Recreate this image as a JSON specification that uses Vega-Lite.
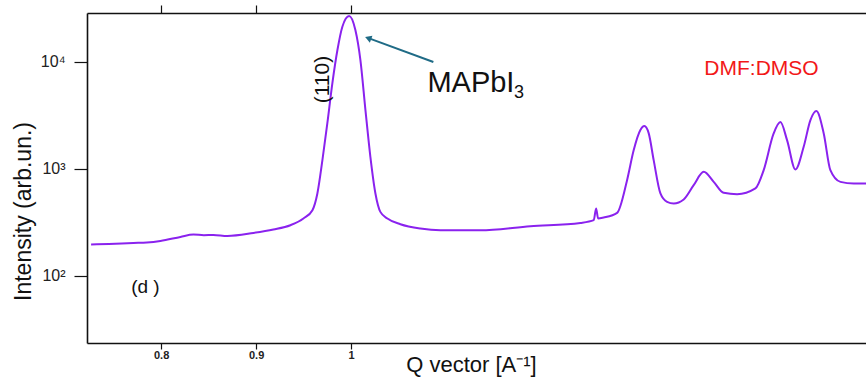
{
  "$schema": "https://vega.github.io/schema/vega-lite/v6.json",
  "autosize": {"type": "none"},
  "padding": {"left": 87, "top": 13, "right": 0, "bottom": 36},
  "background": "white",
  "config": {
    "view": {"stroke": null},
    "font": "Liberation Sans"
  },
  "datasets": {
    "curve": [
      {"q": 0.7263, "i": 196.6},
      {"q": 0.745, "i": 199.0},
      {"q": 0.7708, "i": 203.4},
      {"q": 0.785, "i": 205.5},
      {"q": 0.7993, "i": 212.3},
      {"q": 0.8203, "i": 231.5},
      {"q": 0.834, "i": 243.8},
      {"q": 0.845, "i": 240.5},
      {"q": 0.855, "i": 241.7},
      {"q": 0.8698, "i": 236.5},
      {"q": 0.8972, "i": 252.3},
      {"q": 0.9182, "i": 271.4},
      {"q": 0.9361, "i": 297.7},
      {"q": 0.9498, "i": 343.9},
      {"q": 0.9593, "i": 411.1},
      {"q": 0.9645, "i": 588.8},
      {"q": 0.9698, "i": 1206},
      {"q": 0.975, "i": 2674},
      {"q": 0.9803, "i": 6324},
      {"q": 0.9856, "i": 12860},
      {"q": 0.9908, "i": 21240},
      {"q": 0.9979, "i": 26740},
      {"q": 1.0045, "i": 19790},
      {"q": 1.0098, "i": 10370},
      {"q": 1.0151, "i": 3536},
      {"q": 1.0203, "i": 1295},
      {"q": 1.0256, "i": 588.8},
      {"q": 1.0308, "i": 396.5},
      {"q": 1.0382, "i": 343.9},
      {"q": 1.0519, "i": 304.2},
      {"q": 1.0729, "i": 277.3},
      {"q": 1.094, "i": 267.4},
      {"q": 1.1361, "i": 267.4},
      {"q": 1.1887, "i": 291.4},
      {"q": 1.2414, "i": 312.8},
      {"q": 1.2554, "i": 331.6},
      {"q": 1.2579, "i": 426.6},
      {"q": 1.26, "i": 343.9},
      {"q": 1.2659, "i": 351.4},
      {"q": 1.28, "i": 388.1},
      {"q": 1.2905, "i": 784.4},
      {"q": 1.2975, "i": 1496},
      {"q": 1.3045, "i": 2300},
      {"q": 1.3087, "i": 2506},
      {"q": 1.3133, "i": 2142},
      {"q": 1.3185, "i": 1206},
      {"q": 1.3256, "i": 588.8},
      {"q": 1.3326, "i": 491.6},
      {"q": 1.3396, "i": 474.9},
      {"q": 1.3501, "i": 517.6},
      {"q": 1.3606, "i": 704.3},
      {"q": 1.3712, "i": 937.6},
      {"q": 1.3817, "i": 755.8},
      {"q": 1.3922, "i": 596.9},
      {"q": 1.4063, "i": 580.3},
      {"q": 1.4256, "i": 655.9},
      {"q": 1.4343, "i": 972.5},
      {"q": 1.4448, "i": 2142},
      {"q": 1.4519, "i": 2732},
      {"q": 1.4589, "i": 1854},
      {"q": 1.4677, "i": 987.2},
      {"q": 1.4764, "i": 1606},
      {"q": 1.4835, "i": 2852},
      {"q": 1.4898, "i": 3462},
      {"q": 1.4975, "i": 2142},
      {"q": 1.5045, "i": 972.5},
      {"q": 1.5151, "i": 755.8},
      {"q": 1.5291, "i": 730.3},
      {"q": 1.5424, "i": 730.3}
    ]
  },
  "width": 779,
  "height": 330,
  "resolve": {"axis": {"x": "independent"}},
  "layer": [
    {
      "layer": [
        {
          "data": {"name": "curve"},
          "mark": {"type": "line", "color": "#8a22ee", "strokeWidth": 2, "interpolate": "monotone", "clip": true},
          "encoding": {
            "x": {
              "field": "q", "type": "quantitative",
              "scale": {"domain": [0.722, 1.542], "nice": false, "zero": false},
              "axis": {
                "orient": "bottom",
                "values": [0.8, 0.9, 1],
                "labelExpr": "datum.value == 1 ? '1' : format(datum.value, '.1f')",
                "labelFont": "Liberation Sans", "labelFontSize": 11, "labelFontWeight": "bold", "labelColor": "#222",
                "labelPadding": 0, "labelBaseline": "top",
                "tickSize": 6, "tickColor": "#111", "tickWidth": 1.2,
                "domainColor": "#111", "domainWidth": 1.6,
                "grid": false,
                "title": "Q vector [A⁻¹]",
                "titleFont": "Liberation Sans", "titleFontSize": 22, "titleFontWeight": "normal", "titleColor": "#111",
                "titleX": 384, "titleY": 28, "titleAlign": "center", "titleBaseline": "alphabetic"
              }
            },
            "y": {
              "field": "i", "type": "quantitative",
              "scale": {"type": "log", "domain": [23.66, 28510], "nice": false},
              "axis": {
                "orient": "left",
                "values": [100, 1000, 10000],
                "labelExpr": "datum.value == 100 ? '10²' : datum.value == 1000 ? '10³' : '10⁴'",
                "labelFont": "Liberation Sans", "labelFontSize": 16, "labelColor": "#222",
                "labelPadding": 9,
                "tickSize": 13, "tickColor": "#111", "tickWidth": 1.2,
                "domainColor": "#111", "domainWidth": 1.6,
                "grid": false,
                "title": "Intensity (arb.un.)",
                "titleFont": "Liberation Sans", "titleFontSize": 23, "titleFontWeight": "normal", "titleColor": "#111",
                "titleAngle": 270, "titleX": -64, "titleY": 198, "titleAlign": "center", "titleBaseline": "middle"
              }
            }
          }
        },
        {
          "data": {"values": [{"q": 1.0866, "i": 9940, "q2": 1.019, "i2": 16510}]},
          "mark": {"type": "rule", "color": "#1f6b86", "strokeWidth": 2},
          "encoding": {
            "x": {"field": "q", "type": "quantitative"},
            "y": {"field": "i", "type": "quantitative"},
            "x2": {"field": "q2"},
            "y2": {"field": "i2"}
          }
        },
        {
          "data": {"values": [{"q": 1.019, "i": 16510}]},
          "mark": {"type": "point", "shape": "triangle", "angle": 290, "size": 55, "filled": true, "color": "#1f6b86", "opacity": 1},
          "encoding": {
            "x": {"field": "q", "type": "quantitative"},
            "y": {"field": "i", "type": "quantitative"}
          }
        },
        {
          "data": {"values": [{"q": 0.9708, "i": 6820, "label": "(110)"}]},
          "mark": {"type": "text", "angle": 270, "fontSize": 21, "font": "Liberation Sans", "color": "#111", "align": "center", "baseline": "middle"},
          "encoding": {
            "x": {"field": "q", "type": "quantitative"},
            "y": {"field": "i", "type": "quantitative"},
            "text": {"field": "label"}
          }
        },
        {
          "data": {"values": [{"q": 1.0803, "i": 5210, "label": "MAPbI"}]},
          "mark": {"type": "text", "fontSize": 29, "font": "Liberation Sans", "color": "#111", "align": "left", "baseline": "alphabetic"},
          "encoding": {
            "x": {"field": "q", "type": "quantitative"},
            "y": {"field": "i", "type": "quantitative"},
            "text": {"field": "label"}
          }
        },
        {
          "data": {"values": [{"q": 1.1715, "i": 4578, "label": "3"}]},
          "mark": {"type": "text", "fontSize": 18, "font": "Liberation Sans", "color": "#111", "align": "left", "baseline": "alphabetic"},
          "encoding": {
            "x": {"field": "q", "type": "quantitative"},
            "y": {"field": "i", "type": "quantitative"},
            "text": {"field": "label"}
          }
        },
        {
          "data": {"values": [{"q": 1.432, "i": 7510, "label": "DMF:DMSO"}]},
          "mark": {"type": "text", "fontSize": 21, "font": "Liberation Sans", "color": "#f21818", "align": "center", "baseline": "alphabetic"},
          "encoding": {
            "x": {"field": "q", "type": "quantitative"},
            "y": {"field": "i", "type": "quantitative"},
            "text": {"field": "label"}
          }
        },
        {
          "data": {"values": [{"q": 0.7835, "i": 68.9, "label": "(d )"}]},
          "mark": {"type": "text", "fontSize": 19, "font": "Liberation Sans", "color": "#111", "align": "center", "baseline": "alphabetic"},
          "encoding": {
            "x": {"field": "q", "type": "quantitative"},
            "y": {"field": "i", "type": "quantitative"},
            "text": {"field": "label"}
          }
        }
      ]
    },
    {
      "data": {"values": [{"q": 0.8}, {"q": 0.9}, {"q": 1}]},
      "mark": {"type": "tick", "opacity": 0},
      "encoding": {
        "x": {
          "field": "q", "type": "quantitative",
          "axis": {
            "orient": "top",
            "values": [0.8, 0.9, 1],
            "labels": false,
            "tickSize": 8, "tickColor": "#111", "tickWidth": 1.2,
            "domainColor": "#111", "domainWidth": 1.6,
            "grid": false,
            "title": null
          }
        }
      }
    }
  ]
}
